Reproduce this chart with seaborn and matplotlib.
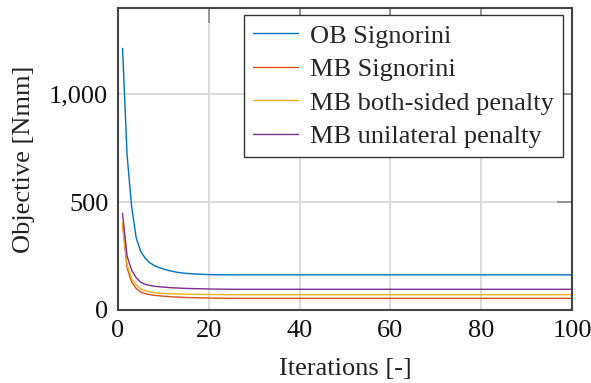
import matplotlib
matplotlib.use("Agg")
import matplotlib.pyplot as plt
import matplotlib.ticker as mticker
import seaborn as sns
import pandas as pd

iterations = list(range(1, 101))

ob_signorini = [
    1213, 718, 480, 335, 272, 240, 219, 206, 197, 190,
    184, 179, 175, 172, 170, 168, 167, 166, 165, 164,
    164, 163.5, 163.5, 163, 163, 163, 163, 163, 163, 163,
    163, 163, 163, 163, 163, 163, 163, 163, 163, 163,
    163, 163, 163, 163, 163, 163, 163, 163, 163, 163,
    163, 163, 163, 163, 163, 163, 163, 163, 163, 163,
    163, 163, 163, 163, 163, 163, 163, 163, 163, 163,
    163, 163, 163, 163, 163, 163, 163, 163, 163, 163,
    163, 163, 163, 163, 163, 163, 163, 163, 163, 163,
    163, 163, 163, 163, 163, 163, 163, 163, 163, 163,
]
mb_signorini = [
    400, 195, 130, 100, 83, 76, 71, 68, 66, 64,
    62.5, 61, 60, 59, 58, 57.5, 57, 56.5, 56, 55.5,
    55, 55, 54.5, 54.5, 54, 54, 54, 54, 54, 54,
    54, 54, 54, 54, 54, 54, 54, 54, 54, 54,
    54, 54, 54, 54, 54, 54, 54, 54, 54, 54,
    54, 54, 54, 54, 54, 54, 54, 54, 54, 54,
    54, 54, 54, 54, 54, 54, 54, 54, 54, 54,
    54, 54, 54, 54, 54, 54, 54, 54, 54, 54,
    54, 54, 54, 54, 54, 54, 54, 54, 54, 54,
    54, 54, 54, 54, 54, 54, 54, 54, 54, 54,
]
mb_both_sided = [
    404, 210, 145, 115, 98, 89, 84, 80, 78, 76.5,
    75.5, 75, 74.5, 74, 73.5, 73, 72.5, 72.5, 72, 72,
    71.5, 71.5, 71, 71, 71, 71, 71, 71, 71, 71,
    71, 71, 71, 71, 71, 71, 71, 71, 71, 71,
    71, 71, 71, 71, 71, 71, 71, 71, 71, 71,
    71, 71, 71, 71, 71, 71, 71, 71, 71, 71,
    71, 71, 71, 71, 71, 71, 71, 71, 71, 71,
    71, 71, 71, 71, 71, 71, 71, 71, 71, 71,
    71, 71, 71, 71, 71, 71, 71, 71, 71, 71,
    71, 71, 71, 71, 71, 71, 71, 71, 71, 71,
]
mb_unilateral = [
    448, 250, 185, 150, 129, 119, 114, 110, 108, 106,
    104.5, 103, 102, 101, 100, 99.5, 99, 98.5, 98, 97.5,
    97, 97, 96.5, 96.5, 96, 96, 96, 96, 96, 96,
    96, 96, 96, 96, 96, 96, 96, 96, 96, 96,
    96, 96, 96, 96, 96, 96, 96, 96, 96, 96,
    96, 96, 96, 96, 96, 96, 96, 96, 96, 96,
    96, 96, 96, 96, 96, 96, 96, 96, 96, 96,
    96, 96, 96, 96, 96, 96, 96, 96, 96, 96,
    96, 96, 96, 96, 96, 96, 96, 96, 96, 96,
    96, 96, 96, 96, 96, 96, 96, 96, 96, 96,
]

series_names = ["OB Signorini", "MB Signorini", "MB both-sided penalty", "MB unilateral penalty"]
series_values = [ob_signorini, mb_signorini, mb_both_sided, mb_unilateral]
colors = ["#0072BD", "#D95319", "#EDB120", "#7E2F8E"]

x_ticks = [0, 20, 40, 60, 80, 100]
y_ticks = [0, 500, 1000]

df = pd.concat(
    [pd.DataFrame({"Iteration": iterations, "Objective": v, "Series": n})
     for n, v in zip(series_names, series_values)],
    ignore_index=True,
)

sns.set_theme(style="whitegrid")
plt.rcParams["font.family"] = ["Liberation Serif", "DejaVu Serif"]

fig = plt.figure(figsize=(5.91, 3.83), dpi=100)
ax = fig.add_axes([118 / 591, 1 - 310 / 383, (572 - 118) / 591, (310 - 8) / 383])

sns.lineplot(data=df, x="Iteration", y="Objective", hue="Series",
             hue_order=series_names, palette=colors, linewidth=1.0, ax=ax)
for ln in ax.get_lines():
    ln.set_solid_joinstyle("round")

ax.set_xlim(0, 100)
ax.set_ylim(0, 1400)
ax.set_xticks(x_ticks)
ax.set_yticks(y_ticks)
ax.yaxis.set_major_formatter(mticker.FuncFormatter(lambda v, p: f"{int(v):,}"))

fs = 19
ax.set_xlabel("Iterations [-]", fontsize=fs, color="#222222", labelpad=12)
ax.set_ylabel("Objective [Nmm]", fontsize=fs, color="#222222", labelpad=10)
ax.tick_params(axis="both", which="major", labelsize=fs, labelcolor="#111111",
               direction="in", length=11, width=1.2, color="#888888",
               top=True, right=True, pad=7)
ax.grid(True, color="#d9d9d9", linewidth=1.3)
for s in ax.spines.values():
    s.set_color("#444444")
    s.set_linewidth(1.5)
    s.set_visible(True)
ax.set_facecolor("white")

leg = ax.legend(loc="upper right", bbox_to_anchor=(1 - 9 / 454, 1 - 7 / 302),
                fontsize=fs, frameon=True, fancybox=False,
                framealpha=1, edgecolor="#333333", handlelength=1.7,
                handletextpad=0.45, labelspacing=0.38, borderpad=0.35,
                borderaxespad=0.0)
leg.get_frame().set_linewidth(1.0)
for line in leg.get_lines():
    line.set_linewidth(1.0)

fig.savefig("out.png", dpi=100)
